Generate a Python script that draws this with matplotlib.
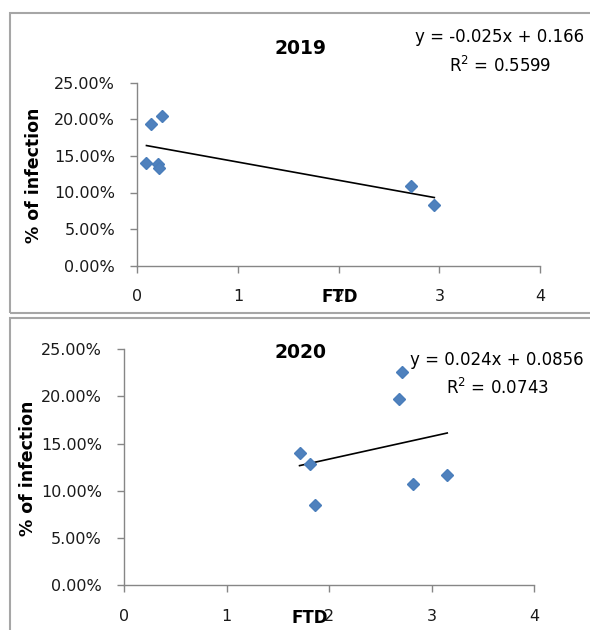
import matplotlib
matplotlib.use("Agg")
import matplotlib.pyplot as plt
import numpy as np
from matplotlib.patches import Rectangle
from matplotlib.ticker import FuncFormatter

plt.rcParams['font.family'] = ['DejaVu Sans']

# Data
ftd_2019 = [0.09, 0.14, 0.24, 0.20, 0.21, 2.72, 2.95]
inf_2019 = [0.140, 0.194, 0.204, 0.139, 0.133, 0.109, 0.083]
ftd_2020 = [1.71, 1.81, 1.86, 2.68, 2.71, 2.815, 3.15]
inf_2020 = [0.1403, 0.128, 0.085, 0.197, 0.226, 0.1075, 0.117]
eq_2019 = ["y = -0.025x + 0.166", "R$^2$ = 0.5599"]
eq_2020 = ["y = 0.024x + 0.0856", "R$^2$ = 0.0743"]
titles = ["2019", "2020"]
xticks = [0, 1, 2, 3, 4]
yticks = [0, 0.05, 0.10, 0.15, 0.20, 0.25]

W, H = 590, 630
fig = plt.figure(figsize=(W / 100, H / 100), dpi=100)

def fx(px):
    return px / W

def fy(py):
    return 1 - py / H

# panel borders
border = '#A6A6A6'
fig.patches.append(Rectangle((fx(9.5), fy(313)), fx(620) , fy(13) - fy(313),
                             transform=fig.transFigure, fill=False, ec=border, lw=1.5))
fig.patches.append(Rectangle((fx(9.5), fy(640)), fx(620), fy(318) - fy(640),
                             transform=fig.transFigure, fill=False, ec=border, lw=1.5))

panels = [
    dict(x=ftd_2019, y=inf_2019, eq=eq_2019, title=titles[0],
         box=(137.4, 82.7, 540.0, 265.7), title_xy=(301, 48),
         eq_xy=(500, 37), r2_xy=(500, 66), ylab_xy=(34, 175), ftd_xy=(340, 297)),
    dict(x=ftd_2020, y=inf_2020, eq=eq_2020, title=titles[1],
         box=(124.2, 349.3, 534.4, 585.0), title_xy=(301, 353),
         eq_xy=(497, 360), r2_xy=(497, 388), ylab_xy=(28, 468), ftd_xy=(310, 618)),
]

spine_c = '#868686'
for p in panels:
    l, t, r, b = p['box']
    ax = fig.add_axes([fx(l), fy(b), fx(r) - fx(l), fy(t) - fy(b)])
    ax.set_xlim(0, 4)
    ax.set_ylim(0, 0.25)
    ax.set_xticks(xticks)
    ax.set_yticks(yticks)
    ax.yaxis.set_major_formatter(FuncFormatter(lambda v, pos: f"{v*100:.2f}%"))
    for s in ['top', 'right']:
        ax.spines[s].set_visible(False)
    for s in ['left', 'bottom']:
        ax.spines[s].set_color(spine_c)
        ax.spines[s].set_linewidth(1.0)
    ax.tick_params(axis='both', direction='out', length=5, width=1, color=spine_c,
                   labelsize=11.5, labelcolor='#1a1a1a')
    ax.tick_params(axis='x', pad=12)
    ax.tick_params(axis='y', pad=11)
    ax.patch.set_alpha(0)

    x = np.array(p['x'])
    y = np.array(p['y'])
    ax.plot(x, y, linestyle='none', marker='D', markersize=6.3,
            color='#4F81BD', mec='#4A7EBB', zorder=3, clip_on=False)
    k, c = np.polyfit(x, y, 1)
    xs = np.array([x.min(), x.max()])
    ax.plot(xs, k * xs + c, color='black', lw=1.2, zorder=2)

    fig.text(fx(p['title_xy'][0]), fy(p['title_xy'][1]), p['title'], ha='center', va='center',
             fontsize=13.5, fontweight='bold')
    fig.text(fx(p['eq_xy'][0]), fy(p['eq_xy'][1]), p['eq'][0], ha='center', va='center',
             fontsize=12)
    fig.text(fx(p['r2_xy'][0]), fy(p['r2_xy'][1]), p['eq'][1], ha='center', va='center',
             fontsize=12)
    fig.text(fx(p['ylab_xy'][0]), fy(p['ylab_xy'][1]), "% of infection", ha='center', va='center',
             rotation=90, fontsize=12.5, fontweight='bold')
    fig.text(fx(p['ftd_xy'][0]), fy(p['ftd_xy'][1]), "FTD", ha='center', va='center',
             fontsize=12, fontweight='bold')

fig.savefig("out.png", dpi=100)
